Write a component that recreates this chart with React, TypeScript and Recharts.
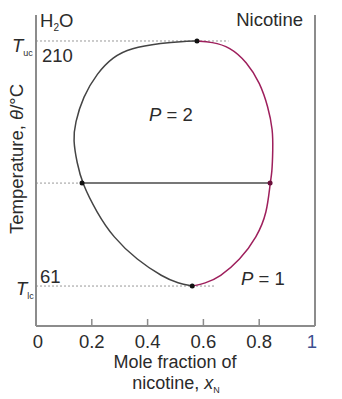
import { ComposedChart, Line, XAxis, YAxis, ReferenceLine, ReferenceDot } from 'recharts'

// ---------------------------------------------------------------------------
// Data: mole fraction of nicotine vs temperature
// ---------------------------------------------------------------------------

// water-rich side of the two-phase region (upper critical -> lower critical)
const leftX = [0.577, 0.52, 0.455, 0.337, 0.276, 0.219, 0.168, 0.14, 0.133, 0.147, 0.165, 0.219, 0.276, 0.362, 0.455, 0.51, 0.56]
const leftT = [210, 209.7, 208.8, 205.7, 200.3, 190.5, 175.9, 160.1, 149.8, 135.8, 123.6, 105.4, 90.8, 76.8, 66.5, 62.6, 61]

// nicotine-rich side
const rightX = [0.577, 0.63, 0.695, 0.756, 0.803, 0.832, 0.849, 0.849, 0.846, 0.839, 0.828, 0.792, 0.731, 0.659, 0.605, 0.56]
const rightT = [210, 209.4, 206.4, 197.2, 184.5, 169.9, 155.9, 143.7, 129.7, 123.6, 105.4, 90.8, 76.8, 66.5, 62.5, 61]

const xTicks = [0, 0.2, 0.4, 0.6, 0.8, 1]
const T_UC = 210
const T_LC = 61
const TIE_T = 123.6
const TIE_LEFT = 0.165
const TIE_RIGHT = 0.839
const X_UC = 0.577
const X_LC = 0.56

const leftData = leftX.map((x, i) => ({ x, t: leftT[i] }))
const rightData = rightX.map((x, i) => ({ x, t: rightT[i] }))

// ---------------------------------------------------------------------------
// Colors / fonts
// ---------------------------------------------------------------------------

const INK = '#2b2b2b'
const GREY = '#444'
const MAGENTA = '#9e1f5c'
const FRAME = '#8c8c8c'
const DOTTED = '#999'
const FONT = '"Liberation Sans", Arial, sans-serif'
const FS = 18.5

const PLOT_BOTTOM = 326

function XTick(props: any) {
  const { x, payload } = props
  const v = payload.value
  const inner = v > 0 && v < 1
  const dx = v === 0 ? 2 : v === 1 ? -3 : 0
  return (
    <g>
      {inner && <line x1={x} x2={x} y1={PLOT_BOTTOM - 7} y2={PLOT_BOTTOM} stroke={FRAME} strokeWidth={1.5} />}
      <text
        x={x + dx}
        y={348}
        textAnchor="middle"
        fontSize={FS}
        fontFamily={FONT}
        fill={v === 1 ? '#3d4f8f' : INK}
      >
        {v === 0 || v === 1 ? String(v) : v.toFixed(1)}
      </text>
    </g>
  )
}

export default function App() {
  return (
    <div style={{ position: 'absolute', left: 0, top: 0, width: 342, height: 399, background: '#fff' }}>
      <ComposedChart width={342} height={399} margin={{ top: 15, right: 26, bottom: 72, left: 35 }}>
        <XAxis
          dataKey="x"
          type="number"
          domain={[0, 1]}
          ticks={xTicks}
          height={1}
          tickLine={false}
          tick={<XTick />}
          axisLine={{ stroke: FRAME, strokeWidth: 2 }}
          allowDuplicatedCategory={false}
        />
        <YAxis
          type="number"
          domain={[36.7, 225.8]}
          width={1}
          tick={false}
          tickLine={false}
          axisLine={{ stroke: FRAME, strokeWidth: 2 }}
        />
        <YAxis
          yAxisId="right"
          orientation="right"
          type="number"
          domain={[36.7, 225.8]}
          width={1}
          tick={false}
          tickLine={false}
          axisLine={{ stroke: FRAME, strokeWidth: 2 }}
        />

        {/* dotted guides to the axis */}
        <ReferenceLine segment={[{ x: 0, y: T_UC }, { x: 0.69, y: T_UC }]} stroke={DOTTED} strokeDasharray="2 2" />
        <ReferenceLine segment={[{ x: 0, y: T_LC }, { x: 0.64, y: T_LC }]} stroke={DOTTED} strokeDasharray="2 2" />
        <ReferenceLine segment={[{ x: 0, y: TIE_T }, { x: TIE_LEFT, y: TIE_T }]} stroke={DOTTED} strokeDasharray="2 2" />

        {/* tie line */}
        <ReferenceLine segment={[{ x: TIE_LEFT, y: TIE_T }, { x: TIE_RIGHT, y: TIE_T }]} stroke="#777" strokeWidth={2} />

        <Line data={leftData} dataKey="t" type="basis" stroke={GREY} strokeWidth={1.5} dot={false} isAnimationActive={false} />
        <Line data={rightData} dataKey="t" type="basis" stroke={MAGENTA} strokeWidth={1.5} dot={false} isAnimationActive={false} />

        <ReferenceDot x={X_UC} y={T_UC} r={2.5} fill="#111" stroke="none" />
        <ReferenceDot x={X_LC} y={T_LC} r={2.5} fill="#111" stroke="none" />
        <ReferenceDot x={TIE_LEFT} y={TIE_T} r={2.5} fill="#111" stroke="none" />
        <ReferenceDot x={TIE_RIGHT} y={TIE_T} r={2.5} fill="#6a0f3a" stroke="none" />
      </ComposedChart>

      {/* annotations */}
      <svg
        width={342}
        height={399}
        style={{ position: 'absolute', left: 0, top: 0, pointerEvents: 'none' }}
        fontFamily={FONT}
        fill={INK}
      >
        <text x={40} y={27} fontSize={FS}>
          H<tspan fontSize={10} dy={4}>2</tspan><tspan dy={-4}>O</tspan>
        </text>
        <text x={303} y={26} fontSize={FS} textAnchor="end">Nicotine</text>

        <text x={12} y={52} fontSize={FS} fontStyle="italic">
          T<tspan fontSize={9} fontStyle="normal" dy={4}>uc</tspan>
        </text>
        <text x={42} y={62} fontSize={FS}>210</text>

        <text x={16} y={295} fontSize={FS} fontStyle="italic">
          T<tspan fontSize={9} fontStyle="normal" dy={4}>lc</tspan>
        </text>
        <text x={40} y={283} fontSize={FS}>61</text>

        <text x={149} y={121} fontSize={FS}>
          <tspan fontStyle="italic">P</tspan> = 2
        </text>
        <text x={241} y={285} fontSize={FS}>
          <tspan fontStyle="italic">P</tspan> = 1
        </text>

        <text x={0} y={0} fontSize={FS} textAnchor="middle" transform="translate(23,159) rotate(-90)">
          Temperature, <tspan fontStyle="italic">θ</tspan>/°C
        </text>

        {/* two-line x-axis title */}
        <text x={175} y={368} fontSize={18} textAnchor="middle">Mole fraction of</text>
        <text x={176} y={389} fontSize={18} textAnchor="middle">
          nicotine, <tspan fontStyle="italic">x</tspan><tspan fontSize={9} dy={4}>N</tspan>
        </text>
      </svg>
    </div>
  )
}
